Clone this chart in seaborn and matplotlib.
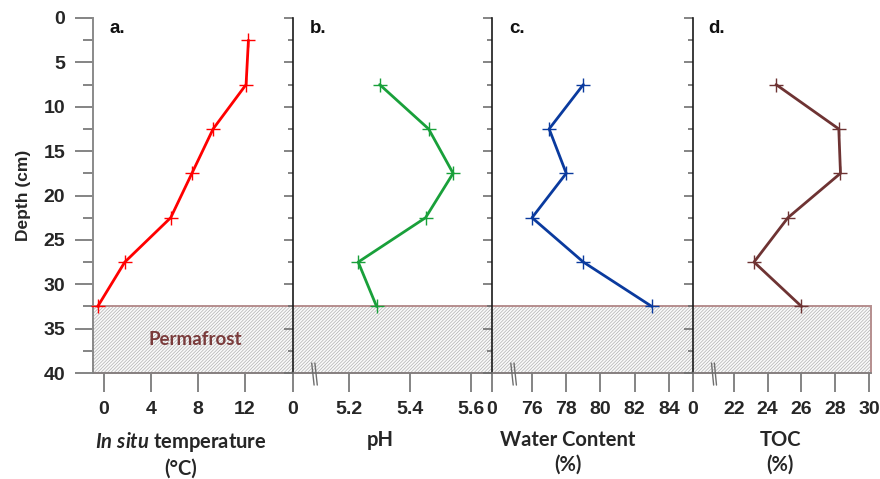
import matplotlib
matplotlib.use("Agg")
import matplotlib.pyplot as plt
import matplotlib.transforms as mtransforms
from matplotlib.patches import Rectangle
from matplotlib.lines import Line2D
import seaborn as sns
import numpy as np

# ---------------- data ----------------
depth_temp = [2.5, 7.5, 12.5, 17.5, 22.5, 27.5, 32.5]
temperature = [12.3, 12.1, 9.3, 7.5, 5.7, 1.8, -0.5]
depth_other = [7.5, 12.5, 17.5, 22.5, 27.5, 32.5]
ph = [5.30, 5.46, 5.54, 5.45, 5.23, 5.29]
water = [79.0, 77.0, 78.0, 76.0, 79.0, 83.0]
toc = [24.5, 28.2, 28.3, 25.2, 23.2, 26.0]

panel_letters = ["a.", "b.", "c.", "d."]
depth_ticks = [0, 5, 10, 15, 20, 25, 30, 35, 40]
permafrost_top, permafrost_bottom = 32.5, 40

temp_ticks = [0, 4, 8, 12]
temp_ticklabels = ["0", "4", "8", "12"]
ph_ticks = [5.017, 5.2, 5.4, 5.6]
ph_ticklabels = ["0", "5.2", "5.4", "5.6"]
water_ticks = [73.66, 76, 78, 80, 82, 84]
water_ticklabels = ["0", "76", "78", "80", "82", "84"]
toc_ticks = [19.6, 22, 24, 26, 28, 30]
toc_ticklabels = ["0", "22", "24", "26", "28", "30"]

# ---------------- style ----------------
sns.set_style("ticks")
plt.rcParams["font.family"] = ["Liberation Sans", "DejaVu Sans"]
plt.rcParams["mathtext.fontset"] = "custom"
plt.rcParams["mathtext.it"] = "Lato:italic:bold"
plt.rcParams["mathtext.rm"] = "Lato:bold"
plt.rcParams["hatch.linewidth"] = 0.5

W, H = 880, 479
fig = plt.figure(figsize=(W / 100, H / 100), dpi=100)

top_px, bot_px = 18, 373
panels_px = [(93, 292), (293, 492), (492, 692), (693, 871)]
axes = []
for (l, r) in panels_px:
    ax = fig.add_axes([l / W, 1 - bot_px / H, (r - l) / W, (bot_px - top_px) / H])
    ax.set_facecolor("none")
    axes.append(ax)

series = [
    (depth_temp, temperature, "#FF0000", (-0.9, 16.0), temp_ticks, temp_ticklabels),
    (depth_other, ph, "#19A03A", (5.017, 5.667), ph_ticks, ph_ticklabels),
    (depth_other, water, "#0A3A9E", (73.66, 85.35), water_ticks, water_ticklabels),
    (depth_other, toc, "#6E3333", (19.6, 30.1), toc_ticks, toc_ticklabels),
]

label_font = dict(family=["Lato", "DejaVu Sans"], fontweight="bold", fontsize=14.5)
xlabels = [r"$\mathit{In\ situ}$ temperature" + "\n(°C)", "pH", "Water Content\n(%)", "TOC\n(%)"]
xlabel_x = [0.44, 0.44, 0.38, 0.49]

for i, (ax, (d, v, c, xl, xt, xtl)) in enumerate(zip(axes, series)):
    sns.lineplot(x=v, y=d, ax=ax, color=c, sort=False, estimator=None,
                 linewidth=2.0, marker="+", markersize=10, markeredgewidth=1.0,
                 markeredgecolor=c, zorder=5, clip_on=False)
    ax.set_ylim(40, 0)
    ax.set_xlim(*xl)
    ax.set_xticks(xt)
    ax.set_xticklabels(xtl)
    ax.set_yticks(depth_ticks)
    ax.set_yticks([2.5 + k for k in depth_ticks[:-1]], minor=True)
    for s in ["top", "right"]:
        ax.spines[s].set_visible(False)
    ax.spines["bottom"].set_color("#7F7F7F")
    ax.spines["bottom"].set_linewidth(1.2)
    ax.tick_params(axis="x", which="major", length=13.5, width=1.2, color="#6F6F6F",
                   pad=7, labelsize=14)
    for t in ax.get_xticklabels():
        t.set_fontweight("bold")
    if i == 0:
        ax.spines["left"].set_color("#8A8A8A")
        ax.spines["left"].set_linewidth(1.4)
        ax.tick_params(axis="y", which="major", length=13, width=1.2, color="#6F6F6F",
                       pad=7, labelsize=14)
        ax.tick_params(axis="y", which="minor", length=7, width=1.2, color="#6F6F6F")
        for t in ax.get_yticklabels():
            t.set_fontweight("bold")
        ax.set_ylabel("Depth (cm)", fontsize=12.5, fontweight="bold")
        ax.yaxis.set_label_coords(-0.31, 0.5)
    else:
        ax.spines["left"].set_color("#1A1A1A")
        ax.spines["left"].set_linewidth(1.2)
        ax.tick_params(axis="y", which="major", length=6.5, width=1.2, color="#6F6F6F",
                       labelleft=False)
        ax.tick_params(axis="y", which="minor", length=3.5, width=1.2, color="#6F6F6F")
        ax.set_ylabel("")
        # axis break marks "//"
        bx = 0.10 if i < 3 else 0.11
        for off in (0.0, 0.016):
            ax.add_line(Line2D([bx + off - 0.006, bx + off + 0.006], [0.028, -0.034],
                               transform=ax.transAxes, color="#6F6F6F", lw=1.0,
                               clip_on=False, zorder=6))
    ax.set_xlabel(xlabels[i], linespacing=1.3, **label_font)
    ax.xaxis.set_label_coords(xlabel_x[i], -0.16)
    ax.text(0.085, 0.995, panel_letters[i], transform=ax.transAxes, ha="left", va="top",
            fontsize=13.5, fontweight="bold", color="#111111")

# permafrost band across all panels
axa = axes[0]
trans = mtransforms.blended_transform_factory(fig.transFigure, axa.transData)
x0, x1 = panels_px[0][0] / W, panels_px[-1][1] / W
hatch = Rectangle((x0, permafrost_top), x1 - x0, permafrost_bottom - permafrost_top,
                  transform=trans, facecolor="#FAFAFA", edgecolor="#B0B0B0", linewidth=0,
                  hatch="//////////", clip_on=False, zorder=0)
axa.add_patch(hatch)
border = Rectangle((x0, permafrost_top), x1 - x0, permafrost_bottom - permafrost_top,
                   transform=trans, facecolor="none", edgecolor="#B58E8E", linewidth=1.4,
                   clip_on=False, zorder=1)
axa.add_patch(border)
axa.text(0.515, (permafrost_top + permafrost_bottom) / 2, "Permafrost",
         transform=mtransforms.blended_transform_factory(axa.transAxes, axa.transData),
         ha="center", va="center", fontsize=13.5, color="#7A3B3B",
         family=["Lato", "DejaVu Sans"], fontweight="bold", zorder=2)

fig.savefig("out.png", dpi=100)
